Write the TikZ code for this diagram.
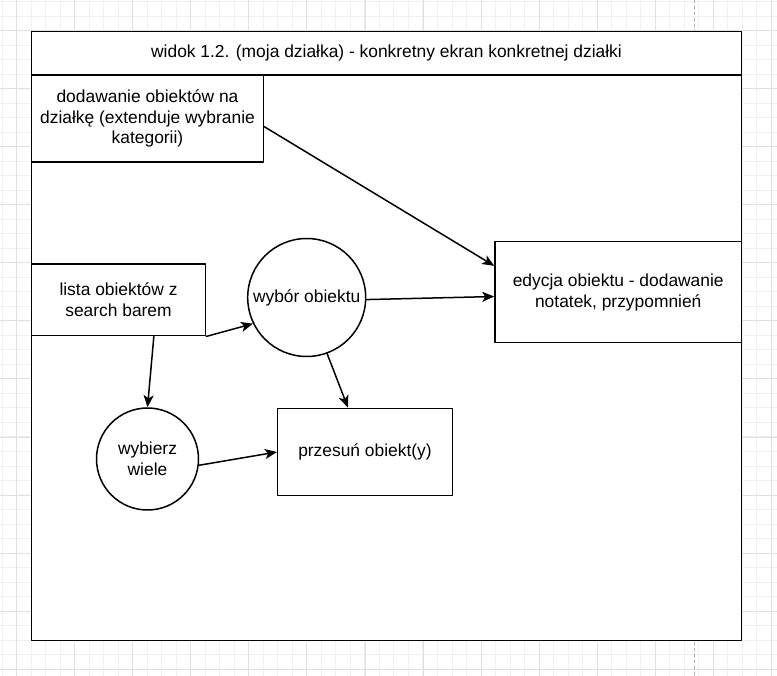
\documentclass[tikz,border=0pt]{standalone}
\usepackage{fontspec}
\setmainfont{Liberation Sans}
\usetikzlibrary{positioning}
\usetikzlibrary{calc}
\usetikzlibrary{arrows.meta}

\begin{document}
\begin{tikzpicture}[line cap=round,line join=round,x=1pt,y=-1pt,
	box/.style={draw,line width=1.5pt,fill=white,align=center,inner sep=0pt,
		font=\fontsize{17.4}{20.9}\selectfont},
	bubble/.style={box,circle},
	flow/.style={-{Stealth[length=12pt,width=10pt,inset=3pt]},line width=1.5pt}]
	
	\useasboundingbox (0,0) rectangle (777,676);
	
	% grid
	\foreach \i in {-1,...,52}
		\draw[black!6, line width=1pt] ({16.7+14.51*\i},0) -- ({16.7+14.51*\i},676);
	\foreach \i in {-2,...,44}
		\draw[black!6, line width=1pt] (0,{30.7+14.51*\i}) -- (777,{30.7+14.51*\i});
	\foreach \i in {0,...,13}
		\draw[black!12, line width=1pt] ({16.7+58.05*\i},0) -- ({16.7+58.05*\i},676);
	\foreach \i in {0,...,11}
		\draw[black!12, line width=1pt] (0,{30.7+58.05*\i}) -- (777,{30.7+58.05*\i});
	\draw[black!30, line width=1pt, dash pattern=on 3pt off 3pt] (694.3,0) -- (694.3,676);
	
	% frame
	\node[box, minimum width=710pt, minimum height=609pt] (frame) at (386.5,336) {};
	\node[box, minimum width=710pt, minimum height=43.5pt, anchor=north] (header) at (frame.north)
		{widok 1.2. (moja działka) - konkretny ekran konkretnej działki};
	
	\node[box, minimum width=232pt, minimum height=87pt] (add) at (147.5,118.5)
		{dodawanie obiektów na\\działkę (extenduje wybranie\\kategorii)};
	\node[box, minimum width=174pt, minimum height=71.7pt] (list) at (118.5,299.85)
		{lista obiektów z\\search barem};
	\node[bubble, minimum size=118pt] (choose) at (306.7,297.5) {wybór obiektu};
	\node[box, minimum width=246.5pt, minimum height=101pt] (edit) at (618.25,292.2)
		{edycja obiektu - dodawanie\\notatek, przypomnień};
	\node[bubble, minimum size=102pt] (pick) at (147.5,459) {wybierz\\wiele};
	\node[box, minimum width=174.6pt, minimum height=87.4pt] (move) at (365,452)
		{przesuń obiekt(y)};
	
	\draw[flow] (add.-4) -- (edit.168);
	\draw[flow] (choose.-2) -- (edit.-178);
	\draw[flow] (list.south east) -- (choose.206);
	\draw[flow] (list.-46) -- (pick.north);
	\draw[flow] (choose.290) -- (move.111);
	\draw[flow] (pick.-7.5) -- (move.west);
\end{tikzpicture}
\end{document}
